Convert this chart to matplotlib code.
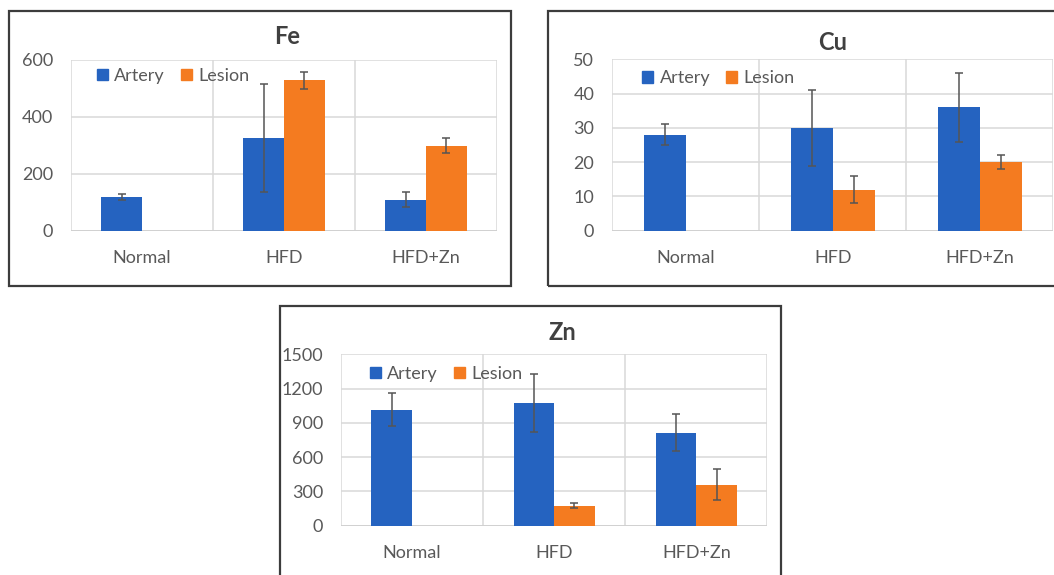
import matplotlib
matplotlib.use("Agg")
import matplotlib.pyplot as plt
from matplotlib.patches import Rectangle, Patch
import numpy as np

plt.rcParams['font.family'] = ['Lato', 'DejaVu Sans']

groups = ["Normal", "HFD", "HFD+Zn"]
series_names = ["Artery", "Lesion"]

fe_artery = [117, 325, 109]
fe_artery_err = [10, 190, 25]
fe_lesion = [0, 527, 298]
fe_lesion_err = [0, 30, 26]

cu_artery = [28, 30, 36]
cu_artery_err = [3, 11, 10]
cu_lesion = [0, 12, 20]
cu_lesion_err = [0, 4, 2]

zn_artery = [1015, 1074, 814]
zn_artery_err = [145, 255, 163]
zn_lesion = [0, 175, 359]
zn_lesion_err = [0, 23, 134]

fe_ticks = [0, 200, 400, 600]
cu_ticks = [0, 10, 20, 30, 40, 50]
zn_ticks = [0, 300, 600, 900, 1200, 1500]

BLUE = "#2563C0"
ORANGE = "#F47B20"
GRID = "#D9D9D9"
TEXT = "#595959"

W, H = 1054, 575
fig = plt.figure(figsize=(W / 100, H / 100), dpi=100)
fig.patch.set_facecolor("white")


def px_axes(left, top, right, bottom):
    return fig.add_axes([left / W, 1 - bottom / H, (right - left) / W, (bottom - top) / H])


def frame(left, top, right, bottom):
    fig.patches.append(Rectangle((left / W, 1 - bottom / H), (right - left) / W, (bottom - top) / H,
                                 transform=fig.transFigure, fill=False, edgecolor="#3C3C3C",
                                 linewidth=1.6, zorder=10))


def panel(box, frame_box, title, title_xy, artery, artery_err, lesion, lesion_err, ticks, legend_anchor):
    frame(*frame_box)
    ax = px_axes(*box)
    x = np.arange(len(groups))
    w = 1 / 3.5
    ekw = dict(ecolor="#555555", elinewidth=1.1, capsize=3, capthick=1.1)
    ax.bar(x - w / 2, artery, w, color=BLUE, yerr=artery_err, error_kw=ekw, zorder=3, label=series_names[0])
    les_err = [e if v > 0 else 0 for v, e in zip(lesion, lesion_err)]
    bars = ax.bar(x + w / 2, lesion, w, color=ORANGE, zorder=3, label=series_names[1])
    for xi, v, e in zip(x, lesion, les_err):
        if v > 0:
            ax.errorbar(xi + w / 2, v, yerr=e, fmt="none", zorder=4, **ekw)
    ax.set_xlim(-0.5, len(groups) - 0.5)
    ax.set_ylim(ticks[0], ticks[-1])
    ax.set_yticks(ticks)
    ax.set_xticks(x)
    ax.set_xticklabels(groups)
    ax.grid(axis="y", color=GRID, linewidth=1.1, zorder=0)
    for b in np.arange(-0.5, len(groups), 1.0):
        ax.axvline(b, color=GRID, linewidth=1.1, zorder=0)
    for s in ax.spines.values():
        s.set_visible(False)
    ax.axhline(ticks[0], color="#D0D0D0", linewidth=1.3, zorder=2)
    ax.tick_params(axis="both", length=0, labelsize=13, colors=TEXT)
    ax.tick_params(axis="y", pad=13)
    ax.tick_params(axis="x", pad=14)
    handles = [Patch(color=BLUE), Patch(color=ORANGE)]
    ax.legend(handles, series_names, loc="center left", bbox_to_anchor=legend_anchor,
              ncol=2, frameon=False, fontsize=13, handlelength=0.6, handleheight=0.6,
              handletextpad=0.35, columnspacing=0.9, borderaxespad=0, borderpad=0,
              labelcolor=TEXT)
    fig.text(title_xy[0] / W, 1 - title_xy[1] / H, title, ha="center", va="center",
             fontsize=17, fontweight="bold", color="#404040")
    return ax


panel((71, 59.5, 497, 230.7), (9, 11, 511, 286), "Fe", (287, 36),
      fe_artery, fe_artery_err, fe_lesion, fe_lesion_err, fe_ticks,
      ((96.7 - 71) / 426, 1 - (75.7 - 59.5) / 171.2))
panel((612.3, 59.3, 1053, 230.7), (548, 11, 1070, 286), "Cu", (833, 42),
      cu_artery, cu_artery_err, cu_lesion, cu_lesion_err, cu_ticks,
      ((642.3 - 612.3) / 440.7, 1 - (78.3 - 59.3) / 171.4))
panel((341, 354.3, 767.3, 525.7), (280, 306, 781, 600), "Zn", (562, 333),
      zn_artery, zn_artery_err, zn_lesion, zn_lesion_err, zn_ticks,
      ((370 - 341) / 426.3, 1 - (373.7 - 354.3) / 171.4))

fig.savefig("out.png", dpi=100)
